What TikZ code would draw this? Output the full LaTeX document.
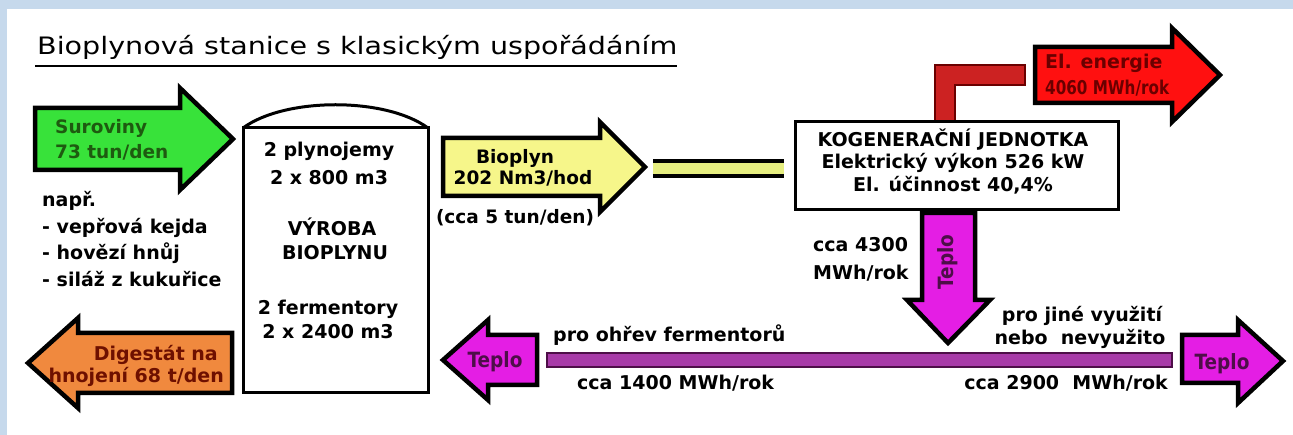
\documentclass[tikz,border=0pt]{standalone}
\usepackage{fontspec}
\setmainfont{DejaVu Sans}
\usepackage{graphicx}
\definecolor{bgblue}{HTML}{C6D9EC}
\definecolor{grn}{HTML}{38E23A}
\definecolor{grntxt}{HTML}{1E5A10}
\definecolor{org}{HTML}{F0893E}
\definecolor{orgtxt}{HTML}{6E1000}
\definecolor{yel}{HTML}{F6F68A}
\definecolor{pipey}{HTML}{E6EE80}
\definecolor{rd}{HTML}{FF1010}
\definecolor{rdtxt}{HTML}{6A0000}
\definecolor{rdpipe}{HTML}{CC2222}
\definecolor{mag}{HTML}{E41EE4}
\definecolor{magtxt}{HTML}{4E0E48}
\definecolor{magbar}{HTML}{A83AA8}
\tikzset{
  txt/.style={font=\bfseries\fontsize{19}{19}\selectfont, inner sep=0pt, text=black},
  arr/.style={draw=black, line width=4.5pt, line join=miter},
  teplo/.style={txt, text=magtxt, font=\bfseries\fontsize{21}{21}\selectfont},
}
\begin{document}
\begin{tikzpicture}[x=1pt,y=-1pt]
\useasboundingbox (0,0) rectangle (1293,435);
% background
\fill[bgblue] (0,0) rectangle (1293,435);
\fill[white] (7,9) rectangle (1293,435);

% title
\node[inner sep=0pt, anchor=base west] (title) at (37,55)
  {\fontsize{24}{24}\selectfont\scalebox{1.19}[1]{Bioplynová stanice s klasickým uspořádáním}};
\draw[line width=2.5pt] ([xshift=-2pt,yshift=-11pt]title.base west) -- ([yshift=-11pt]title.base east);

% green arrow
\draw[arr, fill=grn] (35,108) -- (180,108) -- (180,88) -- (233,139) -- (180,190) -- (180,170) -- (35,170) -- cycle;
% orange arrow
\draw[arr, fill=org] (232,333) -- (78,333) -- (78,318) -- (28,363) -- (78,408) -- (78,393) -- (232,393) -- cycle;
% tank
\draw[line width=3pt, fill=white] (243,128) rectangle (428,393);
\draw[line width=3pt] (243,128) .. controls (285,97) and (386,97) .. (428,128);
% yellow arrow
\draw[arr, fill=yel] (443,138) -- (600,138) -- (600,122) -- (645,167) -- (600,212) -- (600,196) -- (443,196) -- cycle;
% pipe
\fill[pipey] (653,161) rectangle (784,176);
\draw[line width=4pt] (653,161) -- (784,161);
\draw[line width=4pt] (653,176) -- (784,176);
% red L pipe
\draw[fill=rdpipe, draw=rdtxt, line width=2pt] (935,122) -- (935,65) -- (1025,65) -- (1025,85) -- (955,85) -- (955,122);
% red arrow
\draw[arr, fill=rd] (1035,47) -- (1172,47) -- (1172,28) -- (1220,75) -- (1172,122) -- (1172,103) -- (1035,103) -- cycle;
% KGJ box
\draw[line width=3pt, fill=white] (795,122) rectangle (1118,210);
% vertical Teplo arrow
\draw[arr, fill=mag] (922,213) -- (975,213) -- (975,300) -- (990,300) -- (948,343) -- (907,300) -- (922,300) -- cycle;
% horizontal bar
\draw[fill=magbar, draw=magtxt, line width=2pt] (547,353) rectangle (1172,367);
% left Teplo arrow
\draw[arr, fill=mag] (537,335) -- (537,385) -- (488,385) -- (488,400) -- (443,360) -- (488,320) -- (488,335) -- cycle;
% right Teplo arrow
\draw[arr, fill=mag] (1182,335) -- (1238,335) -- (1238,320) -- (1283,361) -- (1238,403) -- (1238,383) -- (1182,383) -- cycle;

% texts
\node[txt, text=grntxt, font=\bfseries\fontsize{18.5}{18.5}\selectfont, anchor=base west] (sur1) at (55,134) {Suroviny};
\node[txt, text=grntxt, font=\bfseries\fontsize{18.5}{18.5}\selectfont, anchor=base west] (sur2) at (55,159) {73 tun/den};
\node[txt, anchor=base west] (napr) at (42,207) {např.};
\node[txt, anchor=base west] (l1) at (42,234) {- vepřová kejda};
\node[txt, anchor=base west] (l2) at (42,260) {- hovězí hnůj};
\node[txt, anchor=base west] (l3) at (42,287) {- siláž z kukuřice};

\node[txt, anchor=base] (t1) at (329,157) {2 plynojemy};
\node[txt, anchor=base] (t2) at (329,185) {2 x 800 m3};
\node[txt, anchor=base] (t3) at (332,236) {VÝROBA};
\node[txt, anchor=base] (t4) at (335,260) {BIOPLYNU};
\node[txt, anchor=base] (t5) at (328,315) {2 fermentory};
\node[txt, anchor=base] (t6) at (328,339) {2 x 2400 m3};

\node[txt, text=orgtxt, anchor=base east] (dg1) at (218,361) {Digestát na};
\node[txt, text=orgtxt, anchor=base east] (dg2) at (224,383) {hnojení 68 t/den};

\node[txt, font=\bfseries\fontsize{18.5}{18.5}\selectfont, anchor=base] (bp1) at (515,164) {Bioplyn};
\node[txt, font=\bfseries\fontsize{18.5}{18.5}\selectfont, anchor=base] (bp2) at (523,185) {202 Nm3/hod};
\node[txt, font=\bfseries\fontsize{18.5}{18.5}\selectfont, anchor=base] (bp3) at (515,224) {(cca 5 tun/den)};

\node[txt, anchor=base] (k1) at (953,147) {KOGENERAČNÍ JEDNOTKA};
\node[txt, anchor=base] (k2) at (953,169) {Elektrický výkon 526 kW};
\node[txt, anchor=base] (k3) at (953,192) {El. účinnost 40,4\%};

\node[txt, text=rdtxt, anchor=base west] (e1) at (1045,69) {El. energie};
\node[txt, text=rdtxt, anchor=base west] (e2) at (1045,95) {\scalebox{0.8}[1]{4060 MWh/rok}};

\node[txt, anchor=base west] (c1) at (813,252) {cca 4300};
\node[txt, anchor=base west] (c2) at (813,280) {MWh/rok};
\node[teplo, rotate=90] (tv) at (948,262) {\scalebox{0.88}[1]{Teplo}};

\node[txt, anchor=base west] (f1) at (553,342) {pro ohřev fermentorů};
\node[txt, anchor=base west] (f2) at (577,390) {cca 1400 MWh/rok};
\node[txt, anchor=base] (j1) at (1082,322) {pro jiné využití};
\node[txt, anchor=base] (j2) at (1080,345) {nebo\ \ nevyužito};
\node[txt, anchor=base east] (j3) at (1168,390) {cca 2900\ \ MWh/rok};

\node[teplo, anchor=base] (tl) at (495,368) {\scalebox{0.88}[1]{Teplo}};
\node[teplo, anchor=base] (tr) at (1222,370) {\scalebox{0.88}[1]{Teplo}};
\end{tikzpicture}
\end{document}
